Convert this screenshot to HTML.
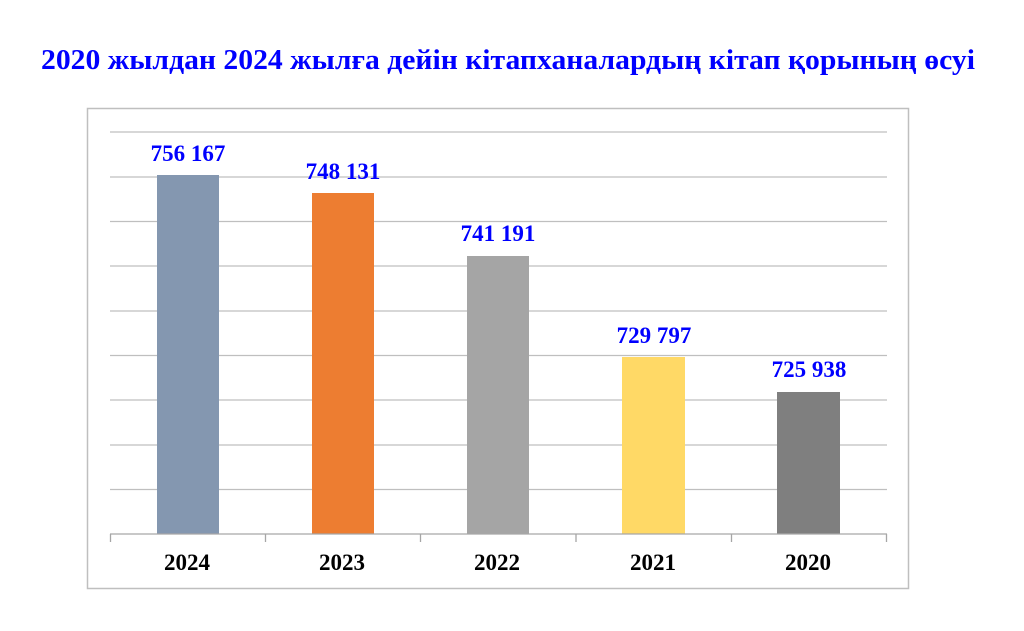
<!DOCTYPE html>
<html><head><meta charset="utf-8"><style>
html,body{margin:0;padding:0;background:#fff;}
svg{display:block;}
text{font-family:"Liberation Serif","Times New Roman",serif;font-weight:bold;}
</style></head><body>
<svg width="1024" height="631" viewBox="0 0 1024 631" xmlns="http://www.w3.org/2000/svg">
<rect width="1024" height="631" fill="#fff"/>
<text x="508" y="69" text-anchor="middle" font-size="28" fill="#0000FF" textLength="934" lengthAdjust="spacingAndGlyphs">2020 жылдан 2024 жылға дейін кітапханалардың кітап қорының өсуі</text>
<rect x="87.5" y="108.5" width="821" height="480" fill="none" stroke="#BFBFBF" stroke-width="1.5"/>
<g stroke="#BFBFBF" stroke-width="1.3">
<line x1="110" y1="132" x2="887" y2="132"/>
<line x1="110" y1="177" x2="887" y2="177"/>
<line x1="110" y1="221.5" x2="887" y2="221.5"/>
<line x1="110" y1="266" x2="887" y2="266"/>
<line x1="110" y1="311" x2="887" y2="311"/>
<line x1="110" y1="355.5" x2="887" y2="355.5"/>
<line x1="110" y1="400" x2="887" y2="400"/>
<line x1="110" y1="445" x2="887" y2="445"/>
<line x1="110" y1="489.5" x2="887" y2="489.5"/>
</g>
<rect x="157" y="175" width="62" height="359" fill="#8497B0"/>
<rect x="312" y="193" width="62" height="341" fill="#ED7D31"/>
<rect x="467" y="256" width="62" height="278" fill="#A5A5A5"/>
<rect x="622" y="357" width="63" height="177" fill="#FFD966"/>
<rect x="777" y="392" width="63" height="142" fill="#7F7F7F"/>
<g stroke="#A6A6A6" stroke-width="1.3">
<line x1="110" y1="534" x2="887" y2="534"/>
<line x1="110.5" y1="534" x2="110.5" y2="542"/>
<line x1="265.5" y1="534" x2="265.5" y2="542"/>
<line x1="420.5" y1="534" x2="420.5" y2="542"/>
<line x1="576" y1="534" x2="576" y2="542"/>
<line x1="731.5" y1="534" x2="731.5" y2="542"/>
<line x1="886.5" y1="534" x2="886.5" y2="542"/>
</g>
<g font-size="23" fill="#0000FF" text-anchor="middle">
<text x="188" y="161">756 167</text>
<text x="343" y="179">748 131</text>
<text x="498" y="241">741 191</text>
<text x="654" y="343">729 797</text>
<text x="809" y="377">725 938</text>
</g>
<g font-size="23" fill="#000" text-anchor="middle">
<text x="187" y="570">2024</text>
<text x="342" y="570">2023</text>
<text x="497" y="570">2022</text>
<text x="653" y="570">2021</text>
<text x="808" y="570">2020</text>
</g>
</svg>
</body></html>
